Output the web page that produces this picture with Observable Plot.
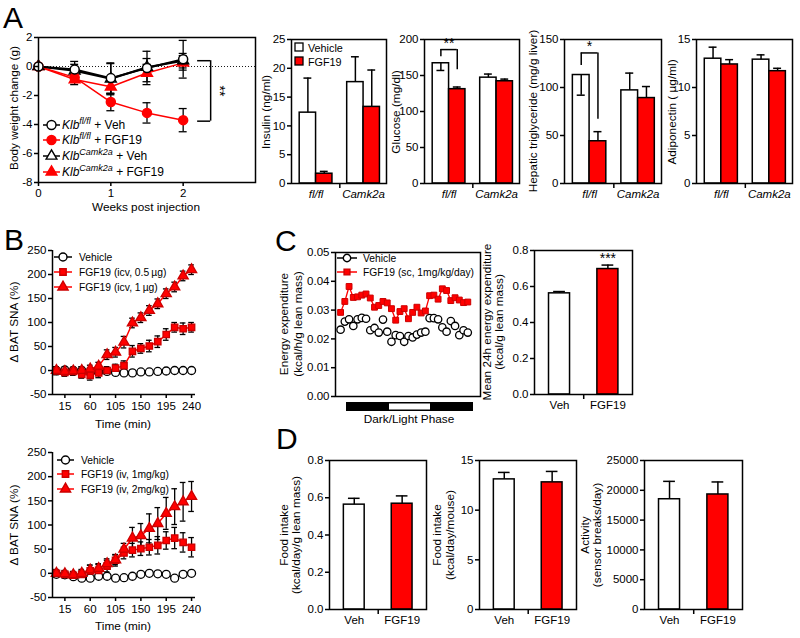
<!DOCTYPE html>
<html>
<head>
<meta charset="utf-8">
<script src="https://cdn.jsdelivr.net/npm/d3@7"></script>
<script src="https://cdn.jsdelivr.net/npm/@observablehq/plot@0.6"></script>
<style>
html,body{margin:0;padding:0;background:#fff;}
#fig{position:relative;width:800px;height:638px;overflow:hidden;background:#fff;}
#fig > svg{position:absolute;max-width:none;}
</style>
</head>
<body>
<div id="fig"></div>
<script>
// ================= DATA =================
// Panel A – body weight change (g) vs weeks post injection
const weeks = [0, 0.5, 1, 1.5, 2];
const weekTicks = [0, 1, 2];
const bwFlVeh = [0, -0.2, -0.8, -0.1, 0.5];
const bwFlVehErr = [0, 0.55, 1.05, 1.15, 1.3];
const bwFlFgf = [0, -0.75, -2.45, -3.2, -3.7];
const bwFlFgfErr = [0, 0.35, 0.6, 0.7, 0.8];
const bwCamVeh = [0, -0.3, -0.85, -0.05, 0.4];
const bwCamVehErr = [0, 0.45, 1.05, 0.6, 0.5];
const bwCamFgf = [0, -0.9, -1.4, -0.45, 0.25];
const bwCamFgfErr = [0, 0.35, 0.55, 0.6, 0.5];
const bwTicks = [-8, -6, -4, -2, 0, 2];
const bwLegendGenotype = ["fl/fl", "fl/fl", "Camk2a", "Camk2a"];
const bwLegendTreatment = ["Veh", "FGF19", "Veh", "FGF19"];

// Panel A – bars (order: fl/fl Vehicle, fl/fl FGF19, Camk2a Vehicle, Camk2a FGF19)
const genotypes = ["fl/fl", "Camk2a"];
const treatments = ["Vehicle", "FGF19"];
const insulin = [12.3, 1.7, 17.6, 13.3];
const insulinErr = [6.0, 0.4, 4.4, 6.4];
const glucose = [167, 131, 147, 142];
const glucoseErr = [10, 3, 5, 3];
const hepaticTG = [113, 44, 97, 89];
const hepaticTGErr = [21, 10, 18, 12];
const adiponectin = [13.0, 12.4, 12.9, 11.7];
const adiponectinErr = [1.2, 0.5, 0.5, 0.3];

// Panel B – delta BAT SNA (%) vs time (min)
const timeMin = [0, 15, 30, 45, 60, 75, 90, 105, 120, 135, 150, 165, 180, 195, 210, 225, 240];
const timeTicks = [15, 60, 105, 150, 195, 240];
const snaTicks = [-50, 0, 50, 100, 150, 200, 250];
const icvVeh = [0, 1, 0, 0, -2, -3, -2, -4, -5, -5, -3, -3, -2, -1, 0, 0, 0];
const icvVehErr = [8, 7, 7, 8, 8, 6, 5, 5, 3, 3, 3, 3, 3, 3, 3, 3, 3];
const icvLow = [-1, -4, -2, -8, -10, -5, 0, 5, 10, 40, 46, 51, 60, 75, 90, 87, 90];
const icvLowErr = [8, 8, 8, 8, 10, 10, 8, 8, 10, 12, 10, 12, 12, 12, 10, 12, 10];
const icvHigh = [0, -2, -1, 0, 3, 9, 33, 38, 59, 99, 110, 125, 139, 160, 174, 197, 210];
const icvHighErr = [6, 6, 6, 8, 8, 8, 10, 10, 12, 10, 10, 10, 10, 10, 10, 10, 10];
const icvLegend = ["Vehicle", "FGF19 (icv, 0.5\u2009\u00b5g)", "FGF19 (icv, 1\u2009\u00b5g)"];
const ivVeh = [-2, -3, -7, -10, -10, -6, -6, -10, -9, -6, -2, 0, -1, -2, -10, -2, 0];
const ivVehErr = [4, 4, 4, 4, 4, 3, 3, 3, 3, 3, 3, 3, 3, 3, 3, 3, 3];
const ivLow = [0, -2, -4, -2, 5, 6, 15, 27, 42, 48, 51, 54, 58, 68, 73, 64, 54];
const ivLowErr = [8, 8, 8, 8, 12, 12, 12, 12, 12, 14, 14, 16, 18, 18, 22, 20, 20];
const ivHigh = [0, -1, -3, 0, 7, 10, 20, 28, 50, 73, 78, 93, 103, 124, 138, 148, 159];
const ivHighErr = [6, 6, 6, 8, 10, 10, 10, 10, 12, 22, 25, 30, 33, 33, 37, 40, 31];
const ivLegend = ["Vehicle", "FGF19 (iv, 1mg/kg)", "FGF19 (iv, 2mg/kg)"];

// Panel C – energy expenditure over dark/light phase
const eeVeh = [0.0232, 0.0260, 0.0268, 0.0245, 0.0268, 0.0273, 0.0270, 0.0230, 0.0238, 0.0222, 0.0267,
               0.0225, 0.0190, 0.0213, 0.0210, 0.0190, 0.0210, 0.0205, 0.0215, 0.0222, 0.0225, 0.0272,
               0.0272, 0.0268, 0.0240, 0.0225, 0.0262, 0.0245, 0.0213, 0.0230, 0.0222];
const eeFgf = [0.0292, 0.0330, 0.0382, 0.0344, 0.0346, 0.0352, 0.0356, 0.0342, 0.0310, 0.0316, 0.0330,
               0.0325, 0.0305, 0.0265, 0.0295, 0.0305, 0.0270, 0.0292, 0.0310, 0.0290, 0.0297, 0.0350,
               0.0352, 0.0338, 0.0374, 0.0368, 0.0333, 0.0343, 0.0335, 0.0326, 0.0328];
const eeTicks = [0, 0.01, 0.02, 0.03, 0.04, 0.05];
const eeLegend = ["Vehicle", "FGF19 (sc, 1mg/kg/day)"];
const groups2 = ["Veh", "FGF19"];
const ee24 = [0.562, 0.697];
const ee24Err = [0.01, 0.022];

// Panel D
const foodLean = [0.563, 0.568];
const foodLeanErr = [0.034, 0.042];
const foodMouse = [13.1, 12.8];
const foodMouseErr = [0.7, 1.1];
const activity = [18500, 19300];
const activityErr = [3000, 2100];

// ================= HELPERS =================
const FONT = '"Liberation Sans", Arial, Helvetica, sans-serif';
const RED = "#ff0000";
const BLACK = "#000000";
const LEG = 10.3; // legend font size
const figEl = document.getElementById("fig");

function panel([x0, y0, x1, y1], [mt, mr, mb, ml], opts) {
  const svg = Plot.plot({
    ...opts,
    width: x1 - x0 + ml + mr,
    height: y1 - y0 + mt + mb,
    marginTop: mt, marginRight: mr, marginBottom: mb, marginLeft: ml,
    style: {fontFamily: FONT, fontSize: "11.5px", color: "#000", background: "transparent", overflow: "visible"}
  });
  svg.style.position = "absolute";
  svg.style.left = (x0 - ml) + "px";
  svg.style.top = (y0 - mt) + "px";
  figEl.appendChild(svg);
  return svg;
}
const M = [8, 8, 26, 46];
const yAxis = (ticks, fmt = d => String(d)) =>
  Plot.axisY(ticks, {tickSize: 4, tickPadding: 2, strokeWidth: 1.5, tickFormat: fmt, label: null});
const frameMark = () => Plot.frame({stroke: BLACK, strokeWidth: 1.5});

function errBars(rows, halfCap) {
  return [
    Plot.ruleX(rows, {x: "x", y1: "lo", y2: "hi", stroke: BLACK, strokeWidth: 1.3}),
    Plot.ruleY(rows, {y: "lo", x1: d => d.x - halfCap, x2: d => d.x + halfCap, stroke: BLACK, strokeWidth: 1.3}),
    Plot.ruleY(rows, {y: "hi", x1: d => d.x - halfCap, x2: d => d.x + halfCap, stroke: BLACK, strokeWidth: 1.3})
  ];
}
function bracket(xa, xb, yTop, yA, yB, label, labelY) {
  return [
    Plot.ruleY([yTop], {x1: xa, x2: xb, stroke: BLACK, strokeWidth: 1.5}),
    Plot.ruleX([xa], {y1: yA, y2: yTop, stroke: BLACK, strokeWidth: 1.5}),
    Plot.ruleX([xb], {y1: yB, y2: yTop, stroke: BLACK, strokeWidth: 1.5}),
    Plot.text([label], {x: (xa + xb) / 2, y: labelY, text: d => d, fontSize: 14, fill: BLACK})
  ];
}

// ---- Panel A: line chart ----
(function () {
  const sets = [
    {mean: bwCamFgf, err: bwCamFgfErr, color: RED, fill: RED, symbol: "triangle", r: 4, lw: 1.5},
    {mean: bwCamVeh, err: bwCamVehErr, color: BLACK, fill: "#fff", symbol: "triangle", r: 4, lw: 2},
    {mean: bwFlFgf, err: bwFlFgfErr, color: RED, fill: RED, symbol: "circle", r: 4.5, lw: 1.5},
    {mean: bwFlVeh, err: bwFlVehErr, color: BLACK, fill: "#fff", symbol: "circle", r: 4.5, lw: 2}
  ].map(s => ({...s, rows: weeks.map((w, i) => ({x: w, m: s.mean[i], lo: s.mean[i] - s.err[i], hi: s.mean[i] + s.err[i], e: s.err[i]}))}));
  const last = weeks.length - 1;
  const top = bwFlVeh[last] - 0.1, bot = bwFlFgf[last] - 0.07;
  panel([38, 37, 255, 182], M, {
    x: {domain: [0, 3], axis: null},
    y: {domain: [-8, 2], axis: null},
    marks: [
      Plot.ruleY([0], {stroke: BLACK, strokeWidth: 0.9, strokeDasharray: "1,2"}),
      ...sets.flatMap(s => errBars(s.rows.filter(d => d.e > 0), 0.055)),
      ...sets.map(s => Plot.line(s.rows, {x: "x", y: "m", stroke: s.color, strokeWidth: s.lw})),
      ...sets.map(s => Plot.dot(s.rows, {x: "x", y: "m", symbol: s.symbol, r: s.r, fill: s.fill, stroke: s.color, strokeWidth: 1.5})),
      Plot.ruleY([top], {x1: 2.2, x2: 2.38, stroke: BLACK, strokeWidth: 1.5}),
      Plot.ruleY([bot], {x1: 2.2, x2: 2.38, stroke: BLACK, strokeWidth: 1.5}),
      Plot.ruleX([2.38], {y1: bot, y2: top, stroke: BLACK, strokeWidth: 1.5}),
      Plot.text(["**"], {x: 2.5, y: (top + bot) / 2, text: d => d, rotate: 90, fontSize: 14, fill: BLACK}),
      frameMark(),
      yAxis(bwTicks),
      Plot.axisX(weekTicks, {tickSize: 4, tickPadding: 2, strokeWidth: 1.5, label: null})
    ]
  });
})();

// ---- Panel A: bar charts ----
function barsA(frameBox, values, errs, downIdx, yDomain, yTicks, extra = []) {
  const rows = values.map((v, i) => {
    const g = Math.floor(i / 2), t = i % 2, x1 = g * 2.9 + t;
    const end = downIdx.includes(i) ? v - errs[i] : v + errs[i];
    return {g, t, v, end, x1, x2: x1 + 1, xc: x1 + 0.5};
  });
  panel(frameBox, M, {
    x: {domain: [-0.5, 5.3], axis: null},
    y: {domain: yDomain, axis: null},
    marks: [
      Plot.rect(rows.filter(d => d.t === 0), {x1: "x1", x2: "x2", y1: () => 0, y2: "v", fill: "#fff", stroke: BLACK, strokeWidth: 1.5}),
      Plot.rect(rows.filter(d => d.t === 1), {x1: "x1", x2: "x2", y1: () => 0, y2: "v", fill: RED, stroke: BLACK, strokeWidth: 1.5}),
      Plot.ruleX(rows, {x: "xc", y1: "v", y2: "end", stroke: BLACK, strokeWidth: 1.5}),
      Plot.ruleY(rows, {y: "end", x1: d => d.xc - 0.24, x2: d => d.xc + 0.24, stroke: BLACK, strokeWidth: 1.5}),
      ...extra,
      frameMark(),
      yAxis(yTicks),
      Plot.axisX(genotypes.map((_, g) => g * 2.9 + 1), {tickSize: 0, tickPadding: 6, fontStyle: "italic", label: null,
        tickFormat: d => genotypes[Math.round((d - 1) / 2.9)]}),
      Plot.axisX([2.45], {tickSize: 5, strokeWidth: 1.5, tickFormat: () => "", label: null})
    ]
  });
}
barsA([291, 39, 386, 183], insulin, insulinErr, [], [0, 25], [0, 5, 10, 15, 20, 25]);
barsA([424, 39, 519, 183], glucose, glucoseErr, [0], [0, 200], [0, 50, 100, 150, 200],
  bracket(0.5, 1.5, 186, 176, 158, "**", 194));
barsA([564, 39, 661, 183], hepaticTG, hepaticTGErr, [0], [0, 150], [0, 50, 100, 150],
  bracket(0.5, 1.5, 136, 123, 67, "*", 143));
barsA([696, 39, 792, 183], adiponectin, adiponectinErr, [], [0, 15], [0, 5, 10, 15]);

// ---- Panel B ----
function panelB(frameBox, veh, vehErr, low, lowErr, high, highErr) {
  const mk = (m, e) => timeMin.map((t, i) => ({x: t, m: m[i], lo: m[i] - e[i], hi: m[i] + e[i]}));
  const sets = [
    {rows: mk(veh, vehErr), color: BLACK, fill: "#fff", symbol: "circle", r: 4},
    {rows: mk(low, lowErr), color: RED, fill: RED, symbol: "square", r: 3.6},
    {rows: mk(high, highErr), color: RED, fill: RED, symbol: "triangle", r: 3.8}
  ];
  panel(frameBox, M, {
    x: {domain: [-7, 247], axis: null},
    y: {domain: [-50, 250], axis: null},
    marks: [
      ...sets.flatMap(s => errBars(s.rows, 5)),
      ...sets.map(s => Plot.line(s.rows, {x: "x", y: "m", stroke: s.color, strokeWidth: 1.5})),
      ...sets.map(s => Plot.dot(s.rows, {x: "x", y: "m", symbol: s.symbol, r: s.r, fill: s.fill,
        stroke: s.color === RED ? "#cc0000" : BLACK, strokeWidth: 1.3})),
      Plot.ruleX([-7], {stroke: BLACK, strokeWidth: 1.5}),
      Plot.ruleY([-50], {stroke: BLACK, strokeWidth: 1.5}),
      yAxis(snaTicks),
      Plot.axisX(timeTicks, {tickSize: 4, tickPadding: 3, strokeWidth: 1.5, label: null})
    ]
  });
}
panelB([52, 250, 195, 394], icvVeh, icvVehErr, icvLow, icvLowErr, icvHigh, icvHighErr);
panelB([52, 452, 195, 597], ivVeh, ivVehErr, ivLow, ivLowErr, ivHigh, ivHighErr);

// ---- Panel C: time course ----
(function () {
  const veh = eeVeh.map((v, i) => ({x: i, m: v}));
  const fgf = eeFgf.map((v, i) => ({x: i, m: v}));
  panel([335, 252, 480, 396], M, {
    x: {domain: [-1.2, 33], axis: null},
    y: {domain: [0, 0.05], axis: null},
    marks: [
      Plot.line(fgf, {x: "x", y: "m", stroke: RED, strokeWidth: 1.3}),
      Plot.dot(veh, {x: "x", y: "m", r: 3.7, fill: "#fff", stroke: BLACK, strokeWidth: 1.3}),
      Plot.dot(fgf, {x: "x", y: "m", symbol: "square", r: 3.3, fill: RED, stroke: "#cc0000", strokeWidth: 1}),
      frameMark(),
      yAxis(eeTicks, d3.format(".2f"))
    ]
  });
})();

// ---- two-bar charts (C right, D) ----
function bars2(frameBox, values, errs, yDomain, yTicks, fmt, extra = []) {
  const rows = values.map((v, i) => ({i, v, end: v + errs[i], x1: i * 2.3, x2: i * 2.3 + 1, xc: i * 2.3 + 0.5}));
  panel(frameBox, M, {
    x: {domain: [-0.69, 3.97], axis: null},
    y: {domain: yDomain, axis: null},
    marks: [
      Plot.rect(rows.filter(d => d.i === 0), {x1: "x1", x2: "x2", y1: () => 0, y2: "v", fill: "#fff", stroke: BLACK, strokeWidth: 1.5}),
      Plot.rect(rows.filter(d => d.i === 1), {x1: "x1", x2: "x2", y1: () => 0, y2: "v", fill: RED, stroke: BLACK, strokeWidth: 1.5}),
      Plot.ruleX(rows, {x: "xc", y1: "v", y2: "end", stroke: BLACK, strokeWidth: 1.5}),
      Plot.ruleY(rows, {y: "end", x1: d => d.xc - 0.28, x2: d => d.xc + 0.28, stroke: BLACK, strokeWidth: 1.5}),
      ...extra,
      frameMark(),
      yAxis(yTicks, fmt),
      Plot.axisX(groups2.map((_, i) => i * 2.3 + 0.5), {tickSize: 0, tickPadding: 6, label: null,
        tickFormat: d => groups2[Math.round((d - 0.5) / 2.3)]}),
      Plot.axisX([1.65], {tickSize: 5, strokeWidth: 1.5, tickFormat: () => "", label: null})
    ]
  });
}
bars2([534, 250, 632, 394], ee24, ee24Err, [0, 0.8], [0, 0.2, 0.4, 0.6, 0.8], d3.format(".1f"),
  [Plot.text(["***"], {x: 2.8, y: ee24[1] + ee24Err[1] + 0.035, text: d => d, fontSize: 14, fill: BLACK})]);
bars2([329, 460, 426, 609], foodLean, foodLeanErr, [0, 0.8], [0, 0.2, 0.4, 0.6, 0.8], d3.format(".1f"));
bars2([479, 460, 576, 609], foodMouse, foodMouseErr, [0, 15], [0, 5, 10, 15], d => String(d));
bars2([644, 460, 742, 609], activity, activityErr, [0, 25000], [0, 5000, 10000, 15000, 20000, 25000], d => String(d));

// ================= OVERLAY: letters, axis titles, legends =================
const ov = d3.select("#fig").append("svg")
  .attr("width", 800).attr("height", 638)
  .style("left", "0px").style("top", "0px")
  .attr("font-family", FONT).attr("fill", "#000");
function txt(x, y, s, size = 11.5, anchor = "start") {
  return ov.append("text").attr("x", x).attr("y", y).attr("font-size", size).attr("text-anchor", anchor).text(s);
}
function vtitle(x, y, lines, gap = 13, size = 11.8) {
  lines.forEach((s, i) => ov.append("text")
    .attr("transform", `translate(${x + i * gap},${y}) rotate(-90)`)
    .attr("text-anchor", "middle").attr("dy", "0.35em").attr("font-size", size).text(s));
}
const symMap = {circle: d3.symbolCircle, square: d3.symbolSquare, triangle: d3.symbolTriangle};
function legendRow(y, x0, x1, textX, st, parts, size = LEG, supSize = 8) {
  ov.append("line").attr("x1", x0).attr("x2", x1).attr("y1", y).attr("y2", y)
    .attr("stroke", st.line).attr("stroke-width", 1.5);
  ov.append("path").attr("transform", `translate(${(x0 + x1) / 2},${y})`)
    .attr("d", d3.symbol(symMap[st.symbol], Math.PI * st.r * st.r)())
    .attr("fill", st.fill).attr("stroke", st.stroke).attr("stroke-width", 1.4);
  const t = ov.append("text").attr("x", textX).attr("y", y + 4).attr("font-size", size);
  parts.forEach(p => {
    const ts = t.append("tspan").text(p.text);
    if (p.italic) ts.attr("font-style", "italic");
    if (p.sup) ts.attr("font-size", supSize).attr("dy", -5);
    if (p.unsup) ts.attr("dy", 5);
  });
}

// Panel letters
txt(3, 28, "A", 30);
txt(4, 250, "B", 30);
txt(275, 251, "C", 30);
txt(276, 449, "D", 30);

// Panel A titles
vtitle(14, 108, ["Body weight change (g)"]);
txt(146, 211, "Weeks post injection", 11.8, "middle");
vtitle(266, 112, ["Insulin (ng/ml)"]);
vtitle(396, 112, ["Glucose (mg/dl)"]);
vtitle(533, 111, ["Hepatic triglyceride (mg/g liver)"]);
vtitle(672, 112, ["Adiponectin ( \u00b5g/ml)"]);

// Panel A line legend
const bwStyles = [
  {line: BLACK, symbol: "circle", r: 4.5, fill: "#fff", stroke: BLACK},
  {line: RED, symbol: "circle", r: 4.5, fill: RED, stroke: RED},
  {line: BLACK, symbol: "triangle", r: 4, fill: "#fff", stroke: BLACK},
  {line: RED, symbol: "triangle", r: 4, fill: RED, stroke: RED}
];
[125, 140, 156, 172].forEach((y, i) => legendRow(y, 43, 60, 62, bwStyles[i], [
  {text: "Klb", italic: true},
  {text: bwLegendGenotype[i], italic: true, sup: true},
  {text: " + " + bwLegendTreatment[i], unsup: true}
], 12, 9));

// Panel A bar legend
ov.append("rect").attr("x", 295).attr("y", 43).attr("width", 8).attr("height", 8).attr("fill", "#fff").attr("stroke", BLACK).attr("stroke-width", 1.3);
txt(308, 51.5, treatments[0], 10.8);
ov.append("rect").attr("x", 295).attr("y", 57).attr("width", 8).attr("height", 8).attr("fill", RED).attr("stroke", BLACK).attr("stroke-width", 1.3);
txt(308, 65.5, treatments[1], 10.8);

// Panel B titles & legends
vtitle(14, 322, ["\u0394 BAT SNA (%)"]);
txt(123, 428, "Time (min)", 11.8, "middle");
vtitle(14, 525, ["\u0394 BAT SNA (%)"]);
txt(123, 630, "Time (min)", 11.8, "middle");
const bStyles = [
  {line: BLACK, symbol: "circle", r: 4, fill: "#fff", stroke: BLACK},
  {line: RED, symbol: "square", r: 3.6, fill: RED, stroke: "#cc0000"},
  {line: RED, symbol: "triangle", r: 3.8, fill: RED, stroke: "#cc0000"}
];
[257, 272, 287].forEach((y, i) => legendRow(y, 54, 72, 79, bStyles[i], [{text: icvLegend[i]}]));
[460, 474, 489].forEach((y, i) => legendRow(y, 57, 74, 81, bStyles[i], [{text: ivLegend[i]}]));

// Panel C titles & legend
vtitle(284, 324, ["Energy expenditure", "(kcal/h/g lean mass)"], 14);
vtitle(487, 322, ["Mean 24h energy expenditure", "(kcal/g lean mass)"], 12);
legendRow(258, 337, 357, 363, {line: BLACK, symbol: "circle", r: 3.7, fill: "#fff", stroke: BLACK}, [{text: eeLegend[0]}]);
legendRow(272, 337, 357, 363, {line: RED, symbol: "square", r: 3.3, fill: RED, stroke: "#cc0000"}, [{text: eeLegend[1]}]);
// Dark / light phase bar
ov.append("rect").attr("x", 346).attr("y", 402).attr("width", 127).attr("height", 9).attr("fill", BLACK);
ov.append("rect").attr("x", 389).attr("y", 403.5).attr("width", 41).attr("height", 6).attr("fill", "#fff");
txt(409, 423, "Dark/Light Phase", 11.8, "middle");

// Panel D titles
vtitle(284, 535, ["Food intake", "(kcal/day/g lean mass)"], 12);
vtitle(437, 535, ["Food intake", "(kcal/day/mouse)"], 13);
vtitle(585, 535, ["Activity", "(sensor breaks/day)"], 12);
</script>
</body>
</html>
